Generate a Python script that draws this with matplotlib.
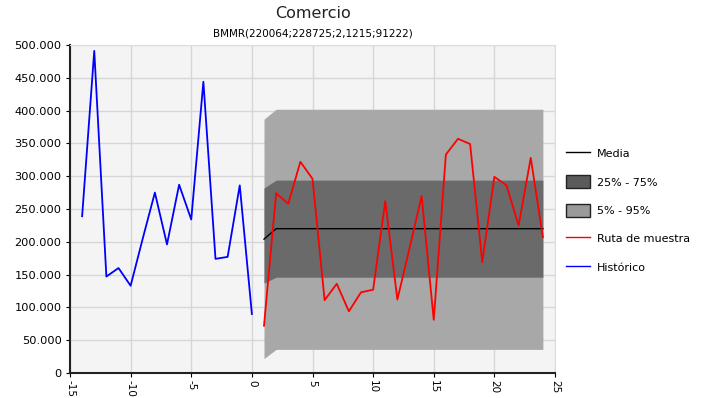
import matplotlib
matplotlib.use("Agg")
import matplotlib.pyplot as plt
import matplotlib.patches as mpatches
from matplotlib.lines import Line2D
from matplotlib.ticker import FuncFormatter

plt.rcParams['axes.unicode_minus'] = False
plt.rcParams['font.family'] = 'DejaVu Sans'

# historic series
hist_x = [-14, -13, -12, -11, -10, -9, -8, -7, -6, -5, -4, -3, -2, -1, 0]
hist_y = [239000, 491000, 147000, 160000, 133000, 205000, 275000, 196000,
          287000, 234000, 444000, 174000, 177000, 286000, 90000]

# simulated period
sim_x = list(range(1, 25))
sample_path = [72000, 274000, 258000, 322000, 296000, 111000, 136000, 94000,
               123000, 127000, 262000, 112000, 190000, 270000, 81000, 333000,
               357000, 349000, 169000, 299000, 286000, 225000, 328000, 207000]
median = [204000] + [220000] * 23
p25 = [137000] + [146000] * 23
p75 = [282000] + [294000] * 23
p5 = [22000] + [36000] * 23
p95 = [387000] + [402000] * 23

fig = plt.figure(figsize=(7.15, 3.98), dpi=100)
ax = fig.add_axes([70/715, 1-373/398, (555-70)/715, (373-45)/398])
ax.set_facecolor('#f4f4f4')

ax.fill_between(sim_x, p5, p95, color='#a8a8a8', lw=0, zorder=1)
ax.fill_between(sim_x, p25, p75, color='#6a6a6a', lw=0, zorder=2)
ax.plot(sim_x, median, color='black', lw=1, zorder=3)
ax.plot(sim_x, sample_path, color='#ff0000', lw=1.3, zorder=4)
ax.plot(hist_x, hist_y, color='#0000ff', lw=1.3, zorder=4)

ax.set_xlim(-15, 25)
ax.set_ylim(0, 500000)
ax.set_xticks(range(-15, 26, 5))
ax.set_yticks(range(0, 500001, 50000))
ax.yaxis.set_major_formatter(FuncFormatter(lambda v, p: f"{int(v):,}".replace(",", ".")))
ax.grid(True, color='#d6d6d6', lw=1, zorder=0)
ax.set_axisbelow(True)
ax.tick_params(axis='x', labelrotation=-90, labelsize=7.5, length=3, pad=2)
ax.tick_params(axis='y', labelsize=8.2, length=3, pad=3)
for s in ['left', 'bottom']:
    ax.spines[s].set_color('#222222')
    ax.spines[s].set_linewidth(1.5)
for s in ['top', 'right']:
    ax.spines[s].set_color('#dddddd')

fig.text(0.5*(70+555)/715, 1-14/398, "Comercio", ha='center', va='center', fontsize=11.5, color='#222222')
fig.text(0.5*(70+555)/715, 1-33/398, "BMMR(220064;228725;2,1215;91222)", ha='center', va='center', fontsize=7.5)

handles = [Line2D([], [], color='black', lw=1),
           mpatches.Patch(facecolor='#5a5a5a', edgecolor='#222222'),
           mpatches.Patch(facecolor='#9a9a9a', edgecolor='#222222'),
           Line2D([], [], color='#ff0000', lw=1),
           Line2D([], [], color='#0000ff', lw=1)]
labels = ['Media', '25% - 75%', '5% - 95%', 'Ruta de muestra', 'Histórico']
fig.legend(handles, labels, loc='upper left', bbox_to_anchor=(556/715, 1-137/398),
           frameon=False, fontsize=8, labelspacing=1.4, handlelength=2.2,
           handleheight=1.4, handletextpad=0.6)

fig.savefig("out.png", dpi=100)
